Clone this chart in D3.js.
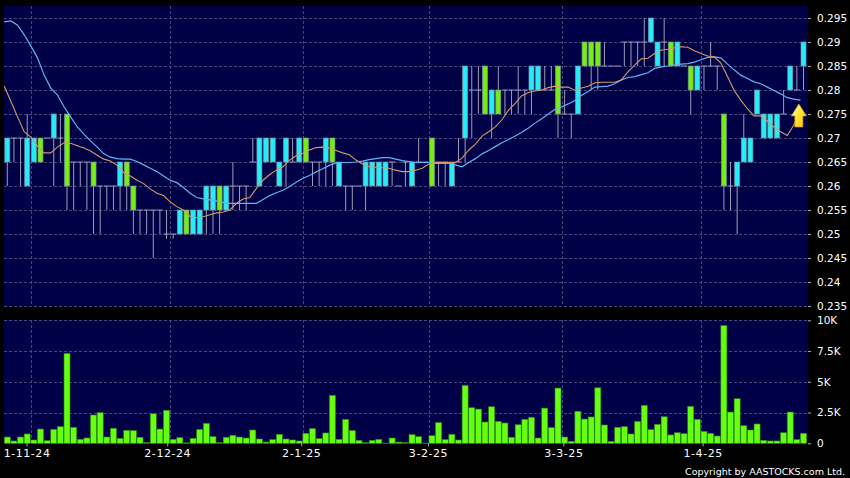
<!DOCTYPE html>
<html><head><meta charset="utf-8">
<script src="https://cdn.jsdelivr.net/npm/d3@7"></script>
<style>html,body{margin:0;padding:0;background:#000;overflow:hidden}svg{display:block}text{font-family:"DejaVu Sans",sans-serif;fill:#fff}</style>
</head><body><svg id="c" width="850" height="478"></svg>
<script>
const priceTicks=[0.235,0.24,0.245,0.25,0.255,0.26,0.265,0.27,0.275,0.28,0.285,0.29,0.295];
const volumeTicks=[0,2500,5000,7500,10000];
const volumeTickLabels=["0","2.5K","5K","7.5K","10K"];
const dateLabels=["1-11-24","2-12-24","2-1-25","3-2-25","3-3-25","1-4-25"];
const dateTickSlots=[2.9,24.1,44.3,63.4,83.8,104.8];
const dateGridSlots=[4,25,45,64,84,105];
const kinds=[..."cddccgdcdg","dddgdddcgg","ddddddcgcc","ccgcddddcc","cccdcgddcg","cdddccccdd","dcddgddcdc","ddgcgddddc","cddgddcggg","dddddddccd","gcdgcdddgd","cccccccdcd","c"].join("");
const bodyTop=[.27,.27,.27,.27,.27,.27,.27,.275,.27,.275,.265,.265,.265,.265,.26,.26,.26,.265,.265,.26,.255,.255,.255,.255,.25,.25,.255,.255,.255,.255,.26,.26,.26,.26,.26,.26,.26,.265,.27,.27,.27,.265,.27,.265,.27,.27,.265,.265,.27,.27,.265,.26,.26,.26,.265,.265,.265,.265,.265,.26,.265,.265,.265,.265,.27,.265,.265,.265,.265,.285,.28,.28,.285,.28,.28,.28,.28,.28,.28,.285,.285,.28,.28,.285,.275,.275,.285,.29,.29,.29,.285,.285,.285,.29,.29,.29,.29,.295,.29,.29,.29,.29,.285,.285,.285,.285,.285,.285,.275,.26,.265,.27,.27,.28,.275,.275,.275,.275,.285,.28,.29];
const bodyBottom=[.265,.27,.27,.26,.265,.265,.27,.27,.27,.26,.265,.265,.265,.26,.26,.26,.26,.26,.26,.255,.255,.255,.255,.255,.25,.25,.25,.25,.25,.25,.255,.255,.255,.255,.26,.26,.26,.265,.26,.265,.265,.26,.265,.265,.265,.265,.265,.265,.265,.265,.26,.26,.26,.26,.26,.26,.26,.26,.265,.26,.265,.26,.265,.265,.26,.265,.265,.26,.265,.27,.28,.28,.275,.275,.275,.28,.28,.28,.28,.28,.28,.28,.28,.275,.275,.275,.275,.285,.285,.285,.285,.285,.285,.29,.29,.29,.29,.29,.285,.29,.285,.285,.285,.28,.28,.285,.285,.285,.26,.26,.26,.265,.265,.275,.27,.27,.27,.275,.28,.28,.285];
const highs=[.27,.27,.27,.275,.27,.27,.27,.275,.275,.275,.265,.265,.265,.265,.26,.26,.26,.265,.265,.26,.255,.255,.255,.255,.255,.25,.255,.255,.255,.255,.26,.26,.26,.26,.265,.26,.26,.27,.27,.27,.27,.265,.27,.27,.27,.27,.265,.265,.27,.27,.265,.26,.26,.26,.265,.265,.265,.265,.265,.26,.265,.265,.27,.265,.27,.265,.265,.265,.27,.285,.285,.285,.285,.28,.285,.28,.28,.285,.28,.285,.285,.285,.285,.285,.28,.275,.285,.29,.29,.29,.29,.285,.285,.29,.29,.29,.295,.295,.29,.295,.29,.29,.285,.285,.285,.285,.29,.285,.275,.265,.265,.275,.27,.28,.275,.275,.275,.28,.285,.285,.29];
const lows=[.26,.265,.26,.26,.265,.265,.27,.26,.265,.255,.255,.26,.255,.25,.25,.255,.255,.255,.255,.25,.25,.25,.245,.25,.249,.249,.25,.25,.25,.25,.25,.25,.25,.255,.255,.255,.255,.265,.26,.265,.265,.26,.26,.265,.265,.265,.26,.26,.26,.26,.26,.255,.255,.26,.255,.26,.26,.26,.26,.26,.26,.26,.265,.265,.26,.26,.26,.26,.265,.265,.27,.275,.275,.27,.275,.275,.275,.275,.275,.275,.28,.28,.28,.27,.275,.27,.275,.285,.28,.28,.285,.285,.285,.285,.285,.285,.285,.29,.285,.285,.285,.285,.285,.275,.28,.28,.285,.28,.255,.255,.25,.265,.265,.275,.27,.27,.27,.275,.28,.28,.28];
const ma20=[.2942,.2944,.2935,.2915,.2892,.2867,.2831,.2804,.2790,.2765,.2744,.2723,.2708,.2694,.2681,.2667,.2660,.2657,.2656,.2656,.2651,.2644,.2637,.2630,.2621,.2612,.2607,.2597,.2585,.2576,.2573,.2571,.2569,.2566,.2564,.2564,.2564,.2564,.2564,.2572,.2580,.2586,.2591,.2599,.2608,.2616,.2622,.2629,.2636,.2643,.2648,.2649,.2649,.2650,.2652,.2655,.2657,.2659,.2659,.2656,.2653,.2651,.2649,.2649,.2649,.2647,.2647,.2647,.2644,.2640,.2649,.2657,.2667,.2674,.2682,.2690,.2697,.2704,.2712,.2721,.2731,.2740,.2750,.2760,.2765,.2771,.2778,.2789,.2797,.2806,.2807,.2808,.2813,.2821,.2826,.2828,.2832,.2836,.2845,.2848,.2850,.2852,.2854,.2855,.2858,.2863,.2868,.2869,.2867,.2854,.2842,.2831,.2824,.2817,.2813,.2806,.2799,.2792,.2784,.2781,.2779];
const ma10=[.2808,.2776,.2744,.2713,.2702,.2683,.2669,.2669,.2681,.2690,.2689,.2684,.2679,.2673,.2664,.2656,.2652,.2643,.2628,.2621,.2612,.2605,.2594,.2585,.2580,.2567,.2557,.2550,.2536,.2534,.2536,.2540,.2544,.2546,.2550,.2564,.2573,.2576,.2595,.2612,.2624,.2633,.2640,.2654,.2663,.2668,.2675,.2680,.2681,.2679,.2674,.2669,.2665,.2654,.2646,.2640,.2639,.2638,.2637,.2633,.2630,.2630,.2633,.2637,.2646,.2649,.2649,.2649,.2649,.2658,.2675,.2687,.2704,.2713,.2723,.2738,.2758,.2772,.2788,.2795,.2798,.2800,.2805,.2808,.2806,.2806,.2799,.2804,.2808,.2815,.2816,.2816,.2816,.2821,.2838,.2852,.2865,.2866,.2876,.2883,.2885,.2888,.2890,.2889,.2882,.2876,.2871,.2869,.2856,.2828,.2799,.2779,.2761,.2746,.2746,.2735,.2723,.2713,.2705,.2727,.2755];
const volumes=[510,190,510,760,270,1160,220,1130,1350,7300,1300,320,430,2300,2490,510,1220,400,1050,1030,490,50,2400,1160,2680,320,460,40,400,1130,1620,540,50,490,650,510,430,1080,350,100,300,730,350,270,190,810,1190,380,840,3890,320,1950,1030,240,50,240,320,20,430,100,50,700,540,20,620,1680,300,730,270,4700,2890,2780,1730,2970,1780,1650,490,1510,1950,2110,430,2860,1270,4490,510,160,2600,1970,2140,4510,1490,160,1300,1350,760,1780,3080,1110,1540,2160,680,860,780,3000,1950,970,810,590,9570,2540,3620,1430,1080,1570,240,190,190,860,2540,300,810];
const arrowAt={slot:119.3,price:0.2771};

const svg=d3.select("#c");
const P={l:4,r:808,t:6,b:306},V={t:320,b:443.3};
const x=d3.scaleLinear().domain([0,120]).range([7.3,803.5]);
const xLine=d3.scaleLinear().domain([0,120]).range([4.3,800.5]);
const y=d3.scaleLinear().domain([0.235,0.295]).range([306,18]);
const yV=d3.scaleLinear().domain([0,10000]).range([443.3,320.3]);
const GRID="#47477c",WICK="#9c9cb4";
function panel(t,b){svg.append("rect").attr("x",P.l).attr("y",t).attr("width",P.r-P.l).attr("height",b-t).attr("fill","#000046");}
panel(P.t,P.b);panel(V.t,V.b);
function grid(sel,ys){sel.selectAll("line.h").data(ys).join("line").attr("class","h").attr("x1",P.l).attr("x2",P.r).attr("y1",d=>Math.round(d)+.5).attr("y2",d=>Math.round(d)+.5).attr("stroke",GRID).attr("stroke-dasharray","3 2");}
const g1=svg.append("g"),g2=svg.append("g");
grid(g1,priceTicks.map(y));grid(g2,volumeTicks.slice(1).map(yV));
function vgrid(sel,t,b){sel.selectAll("line.v").data(dateGridSlots).join("line").attr("class","v").attr("x1",d=>Math.round(xLine(d))+.5).attr("x2",d=>Math.round(xLine(d))+.5).attr("y1",t).attr("y2",b).attr("stroke",GRID).attr("stroke-dasharray","3 2");}
vgrid(g1,P.t,P.b);vgrid(g2,V.t,V.b);

const idx=d3.range(volumes.length);
const colour={c:"#26ecf8",g:"#77ee11"};
const gc=svg.append("g");
gc.selectAll("line.w").data(idx).join("line").attr("class","w")
 .attr("x1",i=>x(i)).attr("x2",i=>x(i)).attr("y1",i=>y(highs[i])).attr("y2",i=>y(lows[i])).attr("stroke",WICK).attr("stroke-width",1);
gc.selectAll("line.d").data(idx.filter(i=>kinds[i]==="d")).join("line").attr("class","d")
 .attr("x1",i=>x(i)-3).attr("x2",i=>x(i)+3).attr("y1",i=>y(bodyTop[i])).attr("y2",i=>y(bodyTop[i])).attr("stroke",WICK).attr("stroke-width",1);
gc.selectAll("rect").data(idx.filter(i=>kinds[i]!=="d")).join("rect")
 .attr("x",i=>x(i)-2.5).attr("width",5).attr("y",i=>y(bodyTop[i])).attr("height",i=>y(bodyBottom[i])-y(bodyTop[i]))
 .attr("fill",i=>colour[kinds[i]]).attr("stroke","#6f8f9f").attr("stroke-width",.7);

const line=d3.line().x((d,i)=>xLine(i)).y(d=>y(d));
svg.append("path").datum(ma20).attr("d",line).attr("fill","none").attr("stroke","#5fb4f4").attr("stroke-width",1.2);
svg.append("path").datum(ma10).attr("d",line).attr("fill","none").attr("stroke","#d89868").attr("stroke-width",1.1);

const defs=svg.append("defs");
const lg=defs.append("linearGradient").attr("id","ag").attr("x1",0).attr("x2",1).attr("y1",0).attr("y2",1);
lg.append("stop").attr("offset","0").attr("stop-color","#fffff0");
lg.append("stop").attr("offset","0.45").attr("stop-color","#ffe83a");
lg.append("stop").attr("offset","1").attr("stop-color","#ffc800");
const ax=x(arrowAt.slot),ay=y(arrowAt.price);
svg.append("path").attr("transform",`translate(${ax},${ay})`)
 .attr("d","M0,0 L7.5,12 L4,12 L4,23 L-4,23 L-4,12 L-7.5,12 Z").attr("fill","url(#ag)").attr("stroke","#d09a10").attr("stroke-width",.7);

g2.append("g").selectAll("rect").data(idx).join("rect")
 .attr("x",i=>x(i)-3).attr("width",6).attr("y",i=>yV(volumes[i])).attr("height",i=>yV(0)-yV(volumes[i]))
 .attr("fill","#66ff11").attr("stroke","#2f8f10").attr("stroke-width",.6);

function styleAxis(a){a.select(".domain").remove();a.selectAll("line").attr("stroke","#b0b0b0");a.selectAll("text").attr("fill","#fff").style("font-family",'"DejaVu Sans",sans-serif').style("font-size","10.5px");}
const ay1=svg.append("g").attr("transform",`translate(${P.r},0)`)
 .call(d3.axisRight(y).tickValues(priceTicks).tickSize(3).tickPadding(6).tickFormat(d3.format(".3~f")));styleAxis(ay1);
const ay2=svg.append("g").attr("transform",`translate(${P.r},0)`)
 .call(d3.axisRight(yV).tickValues(volumeTicks).tickSize(3).tickPadding(6).tickFormat((d,i)=>volumeTickLabels[i]));styleAxis(ay2);
const ax1=svg.append("g").attr("transform",`translate(0,${V.b})`)
 .call(d3.axisBottom(x).tickValues(dateTickSlots).tickSize(3).tickPadding(3).tickFormat((d,i)=>dateLabels[i]));styleAxis(ax1);
ax1.selectAll("text").style("font-size","11px").style("letter-spacing","0.55px");
svg.append("text").attr("x",845).attr("y",475).attr("text-anchor","end").style("font-size","9.5px").text("Copyright by AASTOCKS.com Ltd.");
</script></body></html>
